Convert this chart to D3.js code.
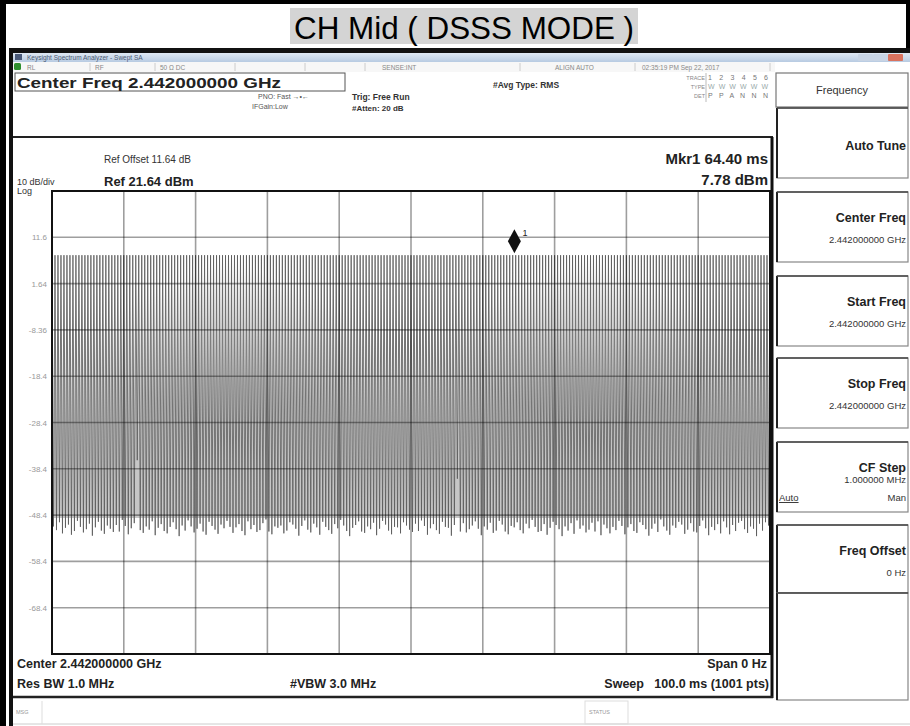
<!DOCTYPE html>
<html>
<head>
<meta charset="utf-8">
<script src="https://cdn.jsdelivr.net/npm/d3@7"></script>
<style>
  body { margin: 0; background: #fff; }
  svg { display: block; font-family: "Liberation Sans", Arial, sans-serif; }
</style>
</head>
<body>
<svg id="chart" width="910" height="726"></svg>
<script>
// chart values
var chartTitle = "CH Mid ( DSSS MODE )";
var refLevel = 21.64;          // dBm, top of screen
var dbPerDiv = 10;
var sweepMs = 100;
var yTickLabels = ["11.6", "1.64", "-8.36", "-18.4", "-28.4", "-38.4", "-48.4", "-58.4", "-68.4"];
var markerTime = 64.40;        // ms
var markerLevel = 7.78;        // dBm
var burstTop = 7.78;           // level of the on-part of each burst

// floor level reached between bursts (dBm), left to right
var gapFloor = [
  -50.8,-51.6,-49.9,-52.3,-51.1,-50.4,-52.6,-51.8,-49.6,-50.9,-52.1,-51.4,-50.2,-52.8,-51.0,-49.8,-51.7,-52.4,-50.6,-51.3,
  -52.0,-50.5,-51.9,-49.4,-50.7,-52.5,-51.2,-50.1,-36.5,-51.6,-52.2,-50.8,-51.5,-49.7,-52.7,-51.1,-50.3,-51.8,-52.3,-50.9,
  -49.9,-51.4,-52.9,-50.6,-51.7,-49.5,-50.8,-52.1,-51.3,-50.2,-51.9,-52.6,-49.8,-50.7,-51.5,-52.4,-50.4,-51.2,-49.6,-50.9,
  -52.2,-51.0,-50.3,-51.8,-52.7,-49.7,-51.4,-50.5,-52.0,-51.6,-50.1,-49.3,-51.9,-52.5,-50.8,-51.1,-50.6,-52.3,-51.7,-49.9,
  -50.4,-51.3,-52.8,-50.7,-49.5,-51.5,-52.1,-50.2,-51.0,-52.6,-49.8,-50.9,-51.6,-52.4,-50.3,-51.2,-49.4,-50.6,-51.8,-52.9,
  -51.1,-50.5,-49.7,-51.9,-52.2,-50.8,-51.4,-50.0,-52.7,-51.3,-49.6,-50.4,-51.7,-52.5,-50.9,-51.0,-52.3,-49.9,-50.6,-51.5,
  -52.0,-50.2,-51.8,-49.5,-50.7,-52.6,-51.2,-50.3,-51.6,-52.4,-49.8,-50.9,-51.1,-52.8,-50.5,-40.5,-51.9,-50.1,-52.1,-51.4,
  -50.6,-49.7,-51.3,-52.7,-50.8,-51.5,-50.0,-52.2,-51.7,-49.6,-50.4,-51.9,-52.5,-50.7,-51.0,-49.9,-51.6,-52.3,-50.2,-51.2,
  -49.4,-50.9,-52.0,-51.8,-50.3,-52.6,-51.1,-49.8,-50.5,-51.4,-52.9,-50.8,-51.7,-50.1,-52.4,-49.5,-51.3,-50.6,-52.1,-51.5,
  -50.0,-51.9,-49.7,-52.7,-50.4,-51.2,-52.3,-50.9,-51.6,-49.6,-50.7,-52.5,-51.0,-50.3,-51.8,-52.2,-49.9,-50.5,-51.4,-52.8,
  -51.3,-50.2,-52.0,-49.3,-50.8,-51.7,-52.6,-50.6,-51.1,-49.8,-50.4,-52.4,-51.5,-50.1,-51.9,-52.1,-50.7,-49.5,-51.2,-52.7,
  -50.9,-51.6,-50.3,-52.3,-49.7,-51.0,-52.5,-50.5,-51.8,-50.0,-49.6,-51.4,-52.2,-50.8,-51.3,-52.9,-50.2,-51.7,-49.9,-50.6
];

// screen annotations
var statusCells = [
  { x: 27, t: "RL" }, { x: 95, t: "RF" }, { x: 160, t: "50 \u03A9   DC" },
  { x: 382, t: "SENSE:INT" }, { x: 555, t: "ALIGN AUTO" }, { x: 642, t: "02:35:19 PM Sep 22, 2017" }
];
var softkeys = [
  { y0: 108, y1: 178, title: "Auto Tune", value: "" },
  { y0: 192, y1: 262, title: "Center Freq", value: "2.442000000 GHz" },
  { y0: 276, y1: 346, title: "Start Freq", value: "2.442000000 GHz" },
  { y0: 358, y1: 428, title: "Stop Freq", value: "2.442000000 GHz" },
  { y0: 442, y1: 512, title: "CF Step", value: "1.000000 MHz" },
  { y0: 525, y1: 593, title: "Freq Offset", value: "0 Hz" },
  { y0: 593, y1: 700, title: "", value: "" }
];

var svg = d3.select("#chart");

// outer frame of the page
svg.append("rect").attr("x", 0).attr("y", 0).attr("width", 910).attr("height", 4).attr("fill", "#000");
svg.append("rect").attr("x", 0).attr("y", 0).attr("width", 6).attr("height", 726).attr("fill", "#000");
svg.append("rect").attr("x", 906).attr("y", 0).attr("width", 4).attr("height", 50).attr("fill", "#000");

// title
svg.append("rect").attr("x", 290).attr("y", 8).attr("width", 348).attr("height", 36).attr("fill", "#d4d4d4");
svg.append("text").attr("x", 464).attr("y", 39).attr("text-anchor", "middle")
  .style("font-family", "'Liberation Sans Narrow', 'Liberation Sans', Arial, sans-serif")
  .style("font-size", "31px").attr("textLength", 340).attr("lengthAdjust", "spacingAndGlyphs")
  .text(chartTitle);

// screenshot window
svg.append("rect").attr("x", 9).attr("y", 48).attr("width", 901).attr("height", 5).attr("fill", "#111");
svg.append("rect").attr("x", 9).attr("y", 48).attr("width", 4).attr("height", 678).attr("fill", "#111");

var grad = svg.append("defs").append("linearGradient").attr("id", "bar").attr("x1", 0).attr("y1", 0).attr("x2", 0).attr("y2", 1);
grad.append("stop").attr("offset", "0%").attr("stop-color", "#dfe8f3");
grad.append("stop").attr("offset", "100%").attr("stop-color", "#b8cbe2");
svg.append("rect").attr("x", 13).attr("y", 53).attr("width", 897).attr("height", 9).attr("fill", "url(#bar)");
svg.append("rect").attr("x", 15).attr("y", 54).attr("width", 7).attr("height", 6).attr("fill", "#4a5a7a");
svg.append("text").attr("x", 27).attr("y", 60).style("font-size", "6.5px").attr("fill", "#4b5a73")
  .text("Keysight Spectrum Analyzer - Swept SA");
// window buttons
[[858, "#c8d4e4"], [873, "#c8d4e4"], [888, "#d9725e"]].forEach(function (b) {
  svg.append("rect").attr("x", b[0]).attr("y", 54).attr("width", 15).attr("height", 7).attr("rx", 1).attr("fill", b[1]);
});

// status row
svg.append("rect").attr("x", 13).attr("y", 62).attr("width", 762).attr("height", 10).attr("fill", "#f7f7f7");
[90, 155, 235, 305, 365, 520, 635, 770].forEach(function (x) {
  svg.append("line").attr("x1", x).attr("x2", x).attr("y1", 63).attr("y2", 71).attr("stroke", "#ccc");
});
svg.append("rect").attr("x", 14).attr("y", 63).attr("width", 7).attr("height", 7).attr("rx", 1.5).attr("fill", "#2f8f2f");
svg.selectAll(".stat").data(statusCells).enter().append("text")
  .attr("x", function (d) { return d.x; }).attr("y", 70)
  .style("font-size", "6.5px").attr("fill", "#888").text(function (d) { return d.t; });

// settings header
svg.append("rect").attr("x", 15).attr("y", 73).attr("width", 330).attr("height", 18)
  .attr("fill", "none").attr("stroke", "#555").attr("stroke-width", 1);
svg.append("text").attr("x", 17).attr("y", 88).style("font-size", "14px").style("font-weight", "bold")
  .attr("fill", "#222").attr("textLength", 264).attr("lengthAdjust", "spacingAndGlyphs")
  .text("Center Freq 2.442000000 GHz");
svg.append("text").attr("x", 258).attr("y", 99).style("font-size", "7px").attr("fill", "#555").text("PNO: Fast  \u2192\u2022\u2190");
svg.append("text").attr("x", 252).attr("y", 109).style("font-size", "7px").attr("fill", "#555").text("IFGain:Low");
svg.append("text").attr("x", 352).attr("y", 100).style("font-size", "8.5px").style("font-weight", "bold").attr("fill", "#333").text("Trig: Free Run");
svg.append("text").attr("x", 352).attr("y", 111).style("font-size", "8px").style("font-weight", "bold").attr("fill", "#333").text("#Atten: 20 dB");
svg.append("text").attr("x", 493).attr("y", 88).style("font-size", "8.5px").style("font-weight", "bold").attr("fill", "#333").text("#Avg Type: RMS");

var traceRows = [["TRACE", "1 2 3 4 5 6"], ["TYPE", "WWWWWW"], ["DET", "P P A N N N"]];
traceRows.forEach(function (r, i) {
  svg.append("text").attr("x", 705).attr("y", 80 + i * 9).attr("text-anchor", "end")
    .style("font-size", "5.5px").attr("fill", "#888").text(r[0]);
  svg.append("text").attr("x", 708).attr("y", 80 + i * 9).style("font-size", "7px")
    .attr("fill", i === 1 ? "#9aa" : "#777").attr("textLength", 60).text(r[1]);
});
svg.append("line").attr("x1", 706).attr("x2", 706).attr("y1", 73).attr("y2", 102).attr("stroke", "#bbb");

// graph panel
svg.append("line").attr("x1", 13).attr("x2", 773).attr("y1", 137).attr("y2", 137).attr("stroke", "#222").attr("stroke-width", 2);
svg.append("line").attr("x1", 772).attr("x2", 772).attr("y1", 137).attr("y2", 698).attr("stroke", "#111").attr("stroke-width", 3);
svg.append("line").attr("x1", 13).attr("x2", 773).attr("y1", 697).attr("y2", 697).attr("stroke", "#222").attr("stroke-width", 2.5);

svg.append("text").attr("x", 104).attr("y", 163).style("font-size", "10px").attr("fill", "#333").text("Ref Offset 11.64 dB");
svg.append("text").attr("x", 17).attr("y", 185).style("font-size", "9px").attr("fill", "#333").text("10 dB/div");
svg.append("text").attr("x", 104).attr("y", 186).style("font-size", "13px").style("font-weight", "bold").attr("fill", "#222").text("Ref 21.64 dBm");
svg.append("text").attr("x", 17).attr("y", 194).style("font-size", "9px").attr("fill", "#333").text("Log");
svg.append("text").attr("x", 768).attr("y", 164).attr("text-anchor", "end").style("font-size", "15px").style("font-weight", "bold").attr("fill", "#222").text("Mkr1 64.40 ms");
svg.append("text").attr("x", 768).attr("y", 185).attr("text-anchor", "end").style("font-size", "15px").style("font-weight", "bold").attr("fill", "#222").text("7.78 dBm");

// scales
var x = d3.scaleLinear().domain([0, sweepMs]).range([52, 770]);
var y = d3.scaleLinear().domain([refLevel - 10 * dbPerDiv, refLevel]).range([654, 191]);

var gridY = yTickLabels.map(function (l, i) { return refLevel - (i + 1) * dbPerDiv; });
var gridX = d3.range(1, 10).map(function (i) { return i * sweepMs / 10; });

// the trace: each burst goes up to burstTop, each gap drops to its floor
var step = sweepMs / gapFloor.length;
var trace = [];
gapFloor.forEach(function (f, i) {
  trace.push([i * step, burstTop]);
  trace.push([i * step + step / 2, f]);
});
trace.push([sweepMs, burstTop]);

var plot = svg.append("g");
// light grey shading between the trace strokes
plot.append("path")
  .datum(trace)
  .attr("d", d3.area().x(function (d) { return x(d[0]); }).y1(function (d) { return y(d[1]); }).y0(y(-49)))
  .attr("fill", "#c6c6c6");
plot.append("path")
  .datum(trace)
  .attr("d", d3.line().x(function (d) { return x(d[0]); }).y(function (d) { return y(d[1]); }))
  .attr("fill", "none").attr("stroke", "#585858").attr("stroke-width", 0.8);

// grid drawn over the trace, semi-transparent so it darkens inside the trace
plot.selectAll(".gy").data(gridY).enter().append("line")
  .attr("x1", x(0)).attr("x2", x(sweepMs))
  .attr("y1", function (d) { return y(d); }).attr("y2", function (d) { return y(d); })
  .attr("stroke", "#000").attr("stroke-opacity", 0.38).attr("stroke-width", 1.6);
plot.selectAll(".gx").data(gridX).enter().append("line")
  .attr("y1", y(refLevel)).attr("y2", y(refLevel - 10 * dbPerDiv))
  .attr("x1", function (d) { return x(d); }).attr("x2", function (d) { return x(d); })
  .attr("stroke", "#000").attr("stroke-opacity", 0.38).attr("stroke-width", 1.6);
plot.append("rect").attr("x", x(0)).attr("y", y(refLevel)).attr("width", x(sweepMs) - x(0))
  .attr("height", y(refLevel - 10 * dbPerDiv) - y(refLevel))
  .attr("fill", "none").attr("stroke", "#111").attr("stroke-width", 2);

// y labels
plot.selectAll(".yl").data(yTickLabels).enter().append("text")
  .attr("x", 47).attr("y", function (d, i) { return y(gridY[i]) + 3; })
  .attr("text-anchor", "end").style("font-size", "8px").attr("fill", "#999")
  .text(function (d) { return d; });

// marker
var mx = x(markerTime), my = y(markerLevel);
plot.append("path")
  .attr("d", "M" + mx + "," + (my - 26) + "L" + (mx + 6.5) + "," + (my - 14) + "L" + mx + "," + (my - 2) + "L" + (mx - 6.5) + "," + (my - 14) + "Z")
  .attr("fill", "#111");
plot.append("text").attr("x", mx + 8).attr("y", my - 19).style("font-size", "9px").attr("fill", "#222").text("1");

// bottom annotations
var bl = [
  { x: 17, y: 668, a: "start", t: "Center 2.442000000 GHz" },
  { x: 17, y: 688, a: "start", t: "Res BW 1.0 MHz" },
  { x: 290, y: 688, a: "start", t: "#VBW 3.0 MHz" },
  { x: 767, y: 668, a: "end", t: "Span 0 Hz" },
  { x: 769, y: 688, a: "end", t: "Sweep\u00a0\u00a0 100.0 ms (1001 pts)" }
];
svg.selectAll(".bl").data(bl).enter().append("text")
  .attr("x", function (d) { return d.x; }).attr("y", function (d) { return d.y; })
  .attr("text-anchor", function (d) { return d.a; })
  .style("font-size", "12.5px").style("font-weight", "bold").attr("fill", "#222")
  .text(function (d) { return d.t; });

// message bar
svg.append("line").attr("x1", 13).attr("x2", 910).attr("y1", 724).attr("y2", 724).attr("stroke", "#ccc");
svg.append("line").attr("x1", 42).attr("x2", 42).attr("y1", 701).attr("y2", 724).attr("stroke", "#ddd");
svg.append("text").attr("x", 16).attr("y", 714).style("font-size", "5.5px").attr("fill", "#999").text("MSG");
svg.append("rect").attr("x", 585).attr("y", 701).attr("width", 43).attr("height", 23).attr("fill", "none").attr("stroke", "#ddd");
svg.append("text").attr("x", 589).attr("y", 714).style("font-size", "5.5px").attr("fill", "#999").text("STATUS");

// softkey column
svg.append("rect").attr("x", 776).attr("y", 73).attr("width", 132).attr("height", 34)
  .attr("fill", "#fff").attr("stroke", "#777").attr("stroke-width", 1.2);
svg.append("text").attr("x", 842).attr("y", 94).attr("text-anchor", "middle").style("font-size", "11px").attr("fill", "#333").text("Frequency");

var keys = svg.selectAll(".key").data(softkeys).enter().append("g");
keys.append("rect").attr("x", 777).attr("y", function (d) { return d.y0; })
  .attr("width", 131).attr("height", function (d) { return d.y1 - d.y0; })
  .attr("fill", "#fff").attr("stroke", "#888").attr("stroke-width", 1.2);
keys.append("line").attr("x1", 777).attr("x2", 777)
  .attr("y1", function (d) { return d.y0; }).attr("y2", function (d) { return d.y1; })
  .attr("stroke", "#222").attr("stroke-width", 2);
keys.append("line").attr("x1", 777).attr("x2", 908)
  .attr("y1", function (d) { return d.y0; }).attr("y2", function (d) { return d.y0; })
  .attr("stroke", "#444").attr("stroke-width", 1.5);
keys.append("text").attr("x", 906).attr("y", function (d) { return d.value ? d.y0 + 30 : d.y0 + 42; })
  .attr("text-anchor", "end").style("font-size", "12.5px").style("font-weight", "bold").attr("fill", "#222")
  .text(function (d) { return d.title; });
keys.append("text").attr("x", 906).attr("y", function (d) { return d.y0 + (d.title === "CF Step" ? 41 : 51); })
  .attr("text-anchor", "end").style("font-size", "9.5px").attr("fill", "#333")
  .text(function (d) { return d.value; });
svg.append("text").attr("x", 779).attr("y", 501).style("font-size", "9.5px").attr("fill", "#333")
  .style("text-decoration", "underline").text("Auto");
svg.append("text").attr("x", 906).attr("y", 501).attr("text-anchor", "end").style("font-size", "9.5px").attr("fill", "#333").text("Man");
</script>
</body>
</html>
